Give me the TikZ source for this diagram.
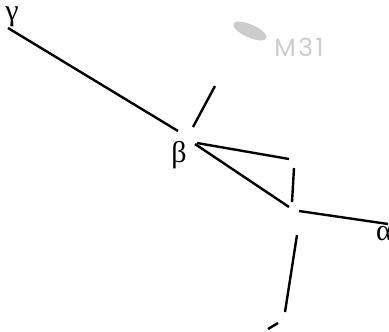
\documentclass[tikz,border=0pt]{standalone}
\usepackage{fontspec}
\newfontfamily\greekfont{Liberation Serif}
\newfontfamily\galaxyfont[LetterSpace=10]{Poppins}
\usetikzlibrary{shapes.geometric}
\definecolor{galaxygray}{RGB}{204,204,204}

\begin{document}
\begin{tikzpicture}[x=0.5pt,y=-0.5pt,
    stick/.style={line width=1.2pt},
    starname/.style={font=\greekfont\fontsize{15}{15}\selectfont, inner sep=0pt}]
  \useasboundingbox (0,0) rectangle (389,331);

  % stick figure, the star points themselves are left out
  \coordinate (g1) at (8,28);    \coordinate (g2) at (178,131);
  \coordinate (b1) at (193,127); \coordinate (b2) at (215,86);
  \coordinate (b3) at (197,143); \coordinate (b4) at (289,159);
  \coordinate (b5) at (195,144); \coordinate (b6) at (289,207);
  \coordinate (c1) at (294,168); \coordinate (c2) at (292,202);
  \coordinate (a1) at (299,211); \coordinate (a2) at (388,224);
  \coordinate (d1) at (297,235); \coordinate (d2) at (285,312);
  \coordinate (e1) at (268,329); \coordinate (e2) at (278,323);

  \foreach \p/\q in {g1/g2, b1/b2, b3/b4, b5/b6, c1/c2, a1/a2, d1/d2, e1/e2}
    \draw[stick] (\p) -- (\q);

  \node[starname] (gamma) at (12,17) {γ};
  \node[starname] (beta) at (179,155) {β};
  \node[starname] (alpha) at (384,234) {α};

  % the galaxy
  \node[ellipse, fill=galaxygray, inner sep=0pt, minimum width=18pt,
        minimum height=6.5pt, rotate=-24] (m31) at (250,31) {};
  \node[text=galaxygray, font=\galaxyfont\fontsize{12.5}{12.5}\selectfont]
    (m31label) at (299,47) {M31};
\end{tikzpicture}
\end{document}
